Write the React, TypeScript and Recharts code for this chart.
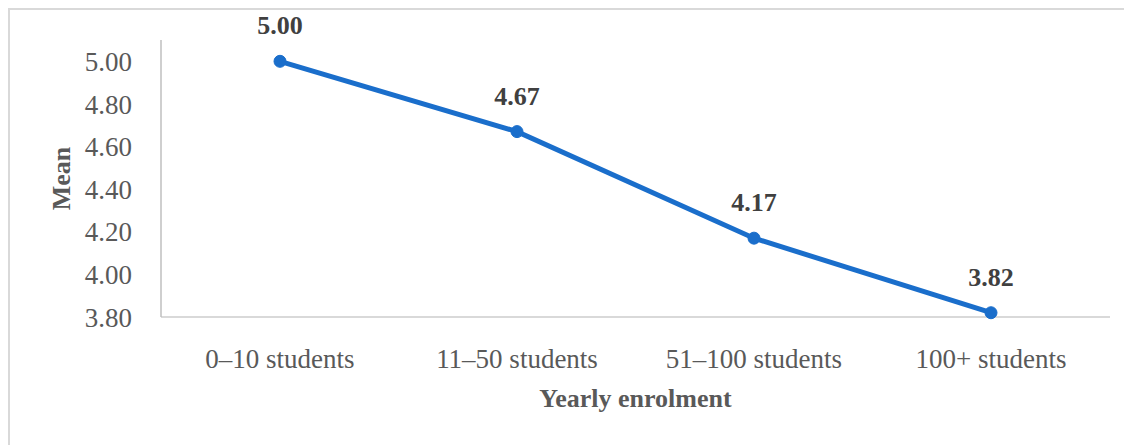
import React from 'react';
import { LineChart, Line, XAxis, YAxis, LabelList } from 'recharts';

const categories = ['0–10 students', '11–50 students', '51–100 students', '100+ students'];
const means = [5.0, 4.67, 4.17, 3.82];
const yTicks = [3.8, 4.0, 4.2, 4.4, 4.6, 4.8, 5.0];

const data = categories.map((name, i) => ({ name, mean: means[i] }));

const FONT = '"Liberation Serif", "DejaVu Serif", serif';
const LINE_COLOR = '#1a6ecb';

const App: React.FC = () => {
  return (
    <div
      style={{
        width: 1124,
        height: 437,
        borderTop: '2px solid #d9d9d9',
        borderLeft: '2px solid #d9d9d9',
        boxSizing: 'border-box',
        background: '#fff',
        fontFamily: FONT,
      }}
    >
      <LineChart
        width={1122}
        height={435}
        data={data}
        margin={{ top: 30, right: 22, left: 0, bottom: 0 }}
      >
        <XAxis
          dataKey="name"
          height={128}
          padding={{ left: 119, right: 119 }}
          axisLine={{ stroke: '#d9d9d9', strokeWidth: 2 }}
          tickLine={false}
          tickSize={0}
          tickMargin={32}
          tick={{ fill: '#595959', fontSize: 27, fontFamily: FONT }}
          interval={0}
          label={{
            value: 'Yearly enrolment',
            position: 'insideBottom',
            offset: 38,
            fill: '#595959',
            fontSize: 26,
            fontWeight: 'bold',
            fontFamily: FONT,
          }}
        />
        <YAxis
          width={151}
          domain={[3.8, 5.1]}
          ticks={yTicks}
          tickFormatter={(v: number) => v.toFixed(2)}
          axisLine={{ stroke: '#bfbfbf', strokeWidth: 1.5 }}
          tickLine={false}
          tickSize={0}
          tickMargin={29}
          tick={{ fill: '#595959', fontSize: 27, fontFamily: FONT }}
          label={{
            value: 'Mean',
            angle: -90,
            position: 'center',
            dx: -25,
            fill: '#595959',
            fontSize: 26,
            fontWeight: 'bold',
            fontFamily: FONT,
          }}
        />
        <Line
          type="linear"
          dataKey="mean"
          stroke={LINE_COLOR}
          strokeWidth={5}
          dot={{ r: 6, fill: LINE_COLOR, stroke: LINE_COLOR, strokeWidth: 1 }}
          isAnimationActive={false}
        >
          <LabelList
            dataKey="mean"
            position="top"
            offset={27}
            formatter={(v: number) => v.toFixed(2)}
            style={{ fill: '#404040', fontSize: 26, fontWeight: 'bold', fontFamily: FONT }}
          />
        </Line>
      </LineChart>
    </div>
  );
};

export default App;
